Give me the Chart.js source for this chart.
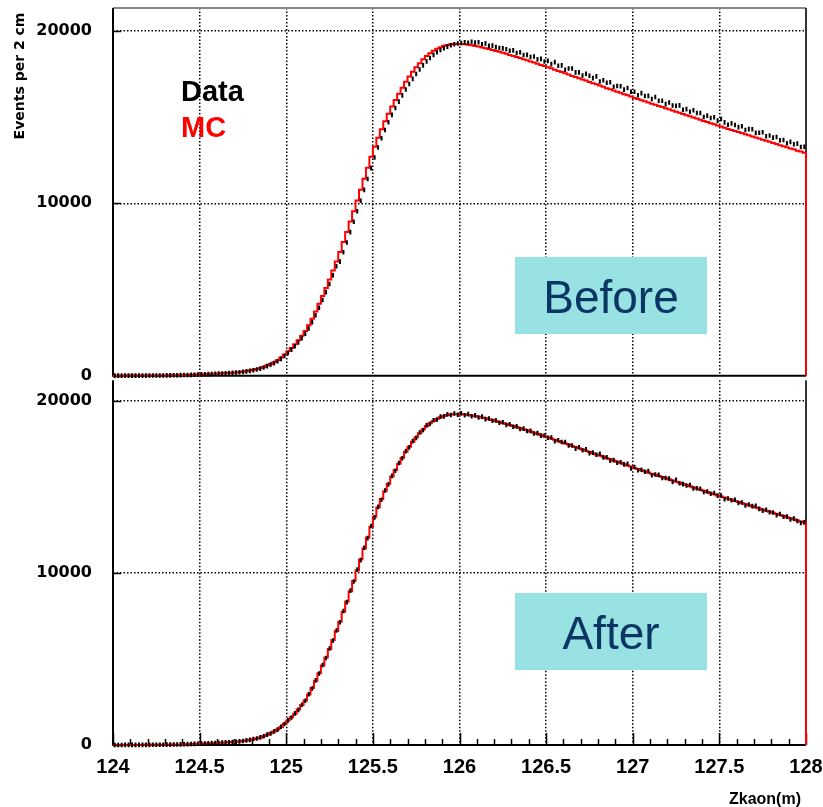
<!DOCTYPE html>
<html><head><meta charset="utf-8">
<script src="https://cdn.jsdelivr.net/npm/chart.js@4.4.1/dist/chart.umd.min.js"></script>
<style>
html,body{margin:0;padding:0;background:#fff;width:823px;height:807px;overflow:hidden}
#c1{position:absolute;left:0;top:0}
#c2{position:absolute;left:0;top:376px}
</style></head><body>
<canvas id="c1" width="823" height="380"></canvas>
<canvas id="c2" width="823" height="431"></canvas>
<script>
// ---- binning (Zkaon in m, 2 cm bins) ----
const X_MIN = 124, X_MAX = 128, BIN_W = 0.02;
const xTickValues = [124, 124.5, 125, 125.5, 126, 126.5, 127, 127.5, 128];
const xTickLabels = ['124', '124.5', '125', '125.5', '126', '126.5', '127', '127.5', '128'];
const yTickValues = [0, 10000, 20000];
const yTickLabels = ['0', '10000', '20000'];

// ---- MC (same in both panels), one value per 2 cm bin ----
const mc = [
  3,3,4,4,5, 5,6,6,7,8, 9,10,11,13,15, 18,21,25,30,36, 42,48,55,63,71,
  80,88,97,106,115, 125,138,150,163,176, 190,210,235,265,300, 340,385,440,510,600, 680,780,900,1050,1230,
  1420,1610,1820,2060,2320, 2590,2930,3310,3730,4180, 4620,5090,5580,6100,6630, 7170,7750,8340,8940,9545, 10160,10790,11430,12070,12700,
  13280,13810,14300,14760,15190, 15610,15990,16360,16710,17050, 17350,17630,17890,18130,18355, 18545,18710,18850,18960,19060, 19140,19190,19220,19235,19240,
  19235,19220,19195,19165,19130, 19090,19045,19000,18950,18900, 18840,18785,18730,18670,18610, 18550,18490,18425,18360,18300, 18230,18165,18100,18030,17960,
  17895,17830,17750,17682,17611, 17540,17475,17390,17327,17256, 17185,17120,17040,16972,16901, 16830,16765,16680,16617,16546, 16475,16410,16325,16262,16191,
  16115,16055,15975,15915,15850, 15780,15720,15645,15580,15515, 15450,15385,15310,15250,15180, 15115,15055,14975,14915,14850, 14780,14720,14645,14580,14515,
  14450,14390,14315,14260,14195, 14130,14075,14000,13945,13880, 13815,13760,13685,13630,13565, 13500,13445,13370,13315,13250, 13185,13130,13055,13000,12935
];

// ---- Data, "Before" panel ----
const dataBefore = [
  2,3,4,3,4, 5,5,6,7,7, 8,9,10,12,13, 16,18,22,26,31, 37,43,50,57,66,
  74,83,91,101,110, 119,131,144,157,170, 183,199,222,249,282, 318,362,410,474,553, 640,728,840,975,1140,
  1320,1510,1710,1930,2180, 2440,2740,3110,3510,3940, 4390,4850,5320,5830,6350, 6620,7160,7730,8330,8930, 9540,10150,10780,11410,12040,
  12660,13240,13770,14250,14700, 15130,15530,15900,16260,16600, 16920,17220,17500,17760,18000, 18230,18430,18610,18760,18890, 19000,19090,19170,19230,19270,
  19300,19340,19310,19370,19320, 19340,19230,19280,19130,19150, 19060,19010,18990,18940,18850, 18870,18720,18760,18600,18610, 18490,18520,18350,18380,18230,
  18265,18074,18193,17982,18001, 17750,17819,17818,17597,17596, 17415,17514,17403,17262,17361, 17070,17139,16998,17027,16766, 16805,16794,16593,16692,16471,
  16475,16270,16390,16225,16230, 16050,16165,15950,15950,15755, 15850,15670,15655,15680,15430, 15465,15310,15400,15235,15240, 15010,15085,14950,14990,14795,
  14890,14695,14560,14640,14545, 14420,14470,14255,14305,14300, 14085,14095,14120,13890,13935, 13810,13850,13655,13675,13480, 13565,13425,13460,13270,13285
];

// ---- Data, "After" panel ----
const dataAfter = [
  3,4,3,5,5, 6,5,7,7,9, 9,11,11,14,15, 19,21,26,29,37, 41,49,54,64,72,
  79,90,96,108,114, 127,136,152,161,178, 188,213,232,268,297, 345,380,446,505,606, 672,790,893,1062,1220,
  1435,1598,1838,2045,2340, 2570,2955,3290,3760,4160, 4650,5060,5610,6080,6660, 7140,7790,8310,8980,9510, 10200,10750,11470,12030,12740,
  13240,13850,14260,14800,15150, 15650,15950,16400,16680,17090, 17310,17670,17860,18170,18320, 18590,18680,18890,18930,19100, 19110,19230,19190,19280,19210,
  19290,19180,19240,19120,19170, 19050,19100,18950,18990,18860, 18880,18740,18770,18620,18650, 18510,18530,18380,18400,18260, 18270,18120,18140,17990,18000,
  17865,17884,17663,17722,17621, 17620,17419,17418,17227,17316, 17145,17204,16973,17002,16881, 16930,16729,16738,16537,16566, 16415,16444,16323,16352,16081,
  16165,15980,16010,15895,15930, 15690,15735,15710,15530,15525, 15490,15300,15425,15220,15170, 15095,15120,14920,14935,14900, 14710,14745,14610,14660,14505,
  14510,14295,14340,14230,14265, 14080,14100,13925,13985,13890, 13905,13735,13630,13680,13535, 13520,13360,13435,13275,13280, 13115,13165,13030,12910,12945
];

const TOP_YMAX = 21330, BOT_YMAX = 21210;

function histPoints(vals) {
  const pts = vals.map((v, i) => ({x: X_MIN + BIN_W * i, y: v}));
  pts.push({x: X_MAX, y: 0});
  return pts;
}
function dataPoints(vals) {
  return vals.map((v, i) => ({x: X_MIN + BIN_W * (i + 0.5), y: v}));
}

const TICK_FONT = {family: 'DejaVu Sans', weight: 'bold', size: 16};

function decoPlugin(panel) {
  return {
    id: 'deco_' + panel,
    beforeDatasetsDraw(chart) {
      const {ctx, chartArea: a, scales: {x, y}} = chart;
      ctx.save();
      ctx.strokeStyle = '#000'; ctx.lineWidth = 1.5;
      yTickValues.forEach(v => {
        const py = Math.round(y.getPixelForValue(v)) + 0.5;
        ctx.beginPath(); ctx.moveTo(a.left, py); ctx.lineTo(a.left + 8, py); ctx.stroke();
      });
      if (panel === 'bottom') {
        for (let k = 0; k <= 40; k++) {
          const v = X_MIN + k * 0.1;
          const px = Math.round(x.getPixelForValue(v)) + 0.5;
          const len = (k % 5 === 0) ? 12 : 6;
          ctx.beginPath(); ctx.moveTo(px, a.bottom); ctx.lineTo(px, a.bottom - len); ctx.stroke();
        }
      }
      ctx.lineWidth = 2;
      if (panel === 'top') {
        ctx.strokeStyle = '#888';
        ctx.beginPath(); ctx.moveTo(a.left, a.top); ctx.lineTo(a.right, a.top); ctx.stroke();
      }
      ctx.strokeStyle = '#333';
      ctx.beginPath(); ctx.moveTo(a.right, a.top); ctx.lineTo(a.right, a.bottom); ctx.stroke();
      ctx.strokeStyle = '#000';
      ctx.beginPath(); ctx.moveTo(a.left, a.top); ctx.lineTo(a.left, a.bottom); ctx.lineTo(a.right, a.bottom); ctx.stroke();
      ctx.fillStyle = '#98e2e4';
      if (panel === 'top') ctx.fillRect(515, 257, 192, 77);
      else ctx.fillRect(515, 593 - 376, 192, 77);
      ctx.restore();
    },
    afterDraw(chart) {
      const {ctx} = chart;
      ctx.save();
      if (panel === 'top') {
        ctx.font = 'bold 14px "DejaVu Sans"';
        ctx.fillStyle = '#000';
        ctx.textAlign = 'center'; ctx.textBaseline = 'alphabetic';
        ctx.translate(24, 76); ctx.rotate(-Math.PI / 2);
        ctx.fillText('Events per 2 cm', 0, 0);
        ctx.setTransform(1, 0, 0, 1, 0, 0);
        ctx.textAlign = 'left';
        ctx.font = 'bold 29px "Liberation Sans"';
        ctx.fillStyle = '#000'; ctx.fillText('Data', 181, 101);
        ctx.fillStyle = '#ff0000'; ctx.fillText('MC', 181, 137);
        ctx.textAlign = 'center';
        ctx.font = '46px "Liberation Sans"';
        ctx.fillStyle = '#0b3563'; ctx.fillText('Before', 611, 313);
      } else {
        ctx.textAlign = 'center';
        ctx.font = '46px "Liberation Sans"';
        ctx.fillStyle = '#0b3563'; ctx.fillText('After', 611, 649 - 376);
        ctx.textAlign = 'right';
        ctx.font = 'bold 16px "Liberation Sans"';
        ctx.fillStyle = '#000'; ctx.fillText('Zkaon(m)', 801, 804 - 376);
      }
      ctx.restore();
    }
  };
}

function makeChart(id, panel, dataVals, yMax, pad) {
  return new Chart(document.getElementById(id), {
    type: 'line',
    data: {
      datasets: [
        {
          label: 'Data', data: dataPoints(dataVals), showLine: false,
          pointStyle: 'line', rotation: 90, pointRadius: 2.3, borderColor: '#000', backgroundColor: '#000',
          pointBorderWidth: 2, pointHoverRadius: 2.3, clip: 4
        },
        {
          label: 'MC', data: histPoints(mc), stepped: 'before', borderColor: '#ff0000', borderWidth: 2,
          pointRadius: 0, fill: false, clip: 4
        }
      ]
    },
    options: {
      responsive: false, animation: false, devicePixelRatio: 1,
      layout: {padding: pad},
      plugins: {legend: {display: false}, tooltip: {enabled: false}},
      scales: {
        x: {
          type: 'linear', min: X_MIN, max: X_MAX,
          afterBuildTicks: s => { s.ticks = xTickValues.map(v => ({value: v})); },
          afterFit: s => { s.height = panel === 'top' ? 0 : 62; s.paddingLeft = 0; s.paddingRight = 0; s.paddingTop = 0; s.paddingBottom = 0; },
          ticks: {display: panel !== 'top', font: {family: 'Liberation Sans', weight: 'bold', size: 20}, color: '#000', padding: 10,
                  maxRotation: 0, autoSkip: false, callback: (v, i) => xTickLabels[i]},
          grid: {drawTicks: false, lineWidth: 1.5,
                 color: c => (c.tick && (c.tick.value === X_MIN || c.tick.value === X_MAX)) ? 'rgba(0,0,0,0)' : '#000'},
          border: {display: false, dash: [1.5, 2]}
        },
        y: {
          min: 0, max: yMax,
          afterBuildTicks: s => { s.ticks = yTickValues.map(v => ({value: v})); },
          afterFit: s => { s.width = 113; s.paddingTop = 0; s.paddingBottom = 0; s.paddingLeft = 0; s.paddingRight = 0; },
          ticks: {font: TICK_FONT, color: '#000', padding: 21, callback: (v, i) => yTickLabels[i]},
          grid: {drawTicks: false, lineWidth: 1.5,
                 color: c => (c.tick && c.tick.value === 0) ? 'rgba(0,0,0,0)' : '#000'},
          border: {display: false, dash: [1.5, 2]}
        }
      }
    },
    plugins: [decoPlugin(panel)]
  });
}

makeChart('c1', 'top', dataBefore, TOP_YMAX, {left: 0, right: 17, top: 8, bottom: 3});
makeChart('c2', 'bottom', dataAfter, BOT_YMAX, {left: 0, right: 17, top: 2, bottom: 0});
</script>
</body></html>
